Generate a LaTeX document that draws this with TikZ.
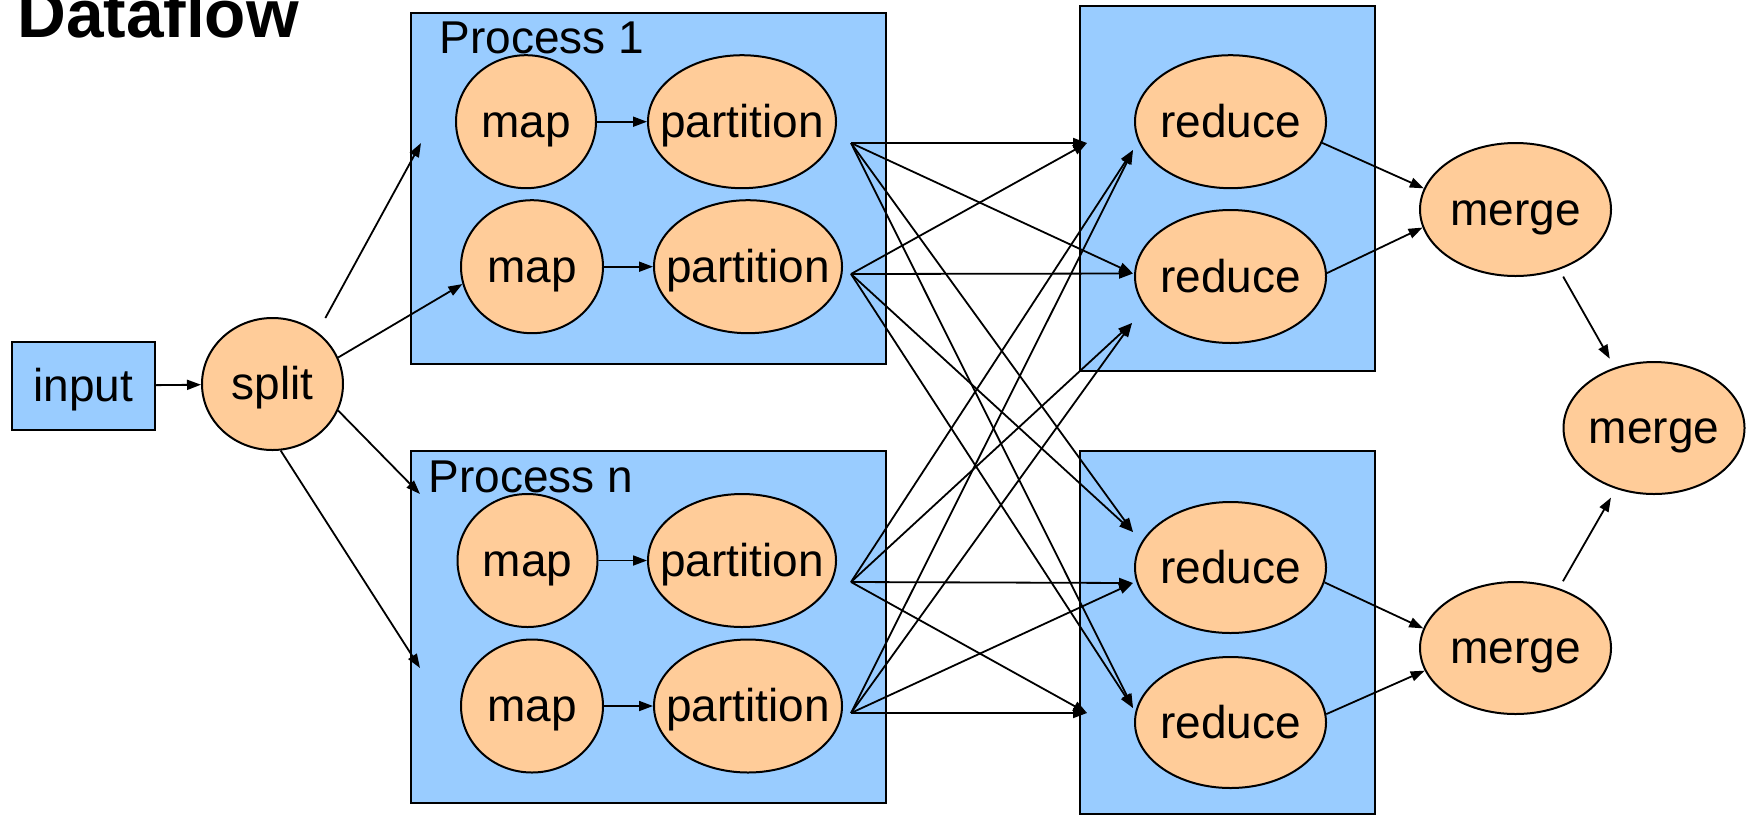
\documentclass[tikz,border=0pt]{standalone}
\usepackage{fontspec}
\setmainfont{Liberation Sans}
\usetikzlibrary{shapes.geometric,arrows.meta}
\definecolor{procblue}{HTML}{99CCFF}
\definecolor{peach}{HTML}{FFCC99}

\begin{document}
\begin{tikzpicture}[x=1pt,y=-1pt,
  box/.style={draw=black, line width=2pt, fill=procblue, inner sep=0pt, anchor=north west},
  oval/.style={ellipse, draw=black, line width=2pt, fill=peach, inner sep=0pt, minimum height=133pt},
  txt/.style={font=\fontsize{46}{50}\selectfont, inner sep=0pt, text height=41.6pt, text depth=9.75pt},
  lbl/.style={font=\fontsize{46}{50}\selectfont, inner sep=0pt, anchor=base west},
  flow/.style={line width=1.8pt, -{Triangle[length=14pt,width=10pt]}},
]
\useasboundingbox (0,0) rectangle (1760,815);
\clip (0,0) rectangle (1760,815);

% title
\node[font=\bfseries\fontsize{67.6}{70}\selectfont, anchor=base west, inner sep=0pt] (title) at (17,37.3) {Dataflow};

% containers
\node[box, minimum width=143pt, minimum height=88.3pt, label={[txt]center:input}] (input) at (11,340.7) {};
\node[box, minimum width=474.5pt, minimum height=351pt] (proc1) at (410,12) {};
\node[box, minimum width=474.5pt, minimum height=352pt] (procn) at (410,450) {};
\node[box, minimum width=295pt, minimum height=365pt] (redbox1) at (1079,5) {};
\node[box, minimum width=295pt, minimum height=363pt] (redbox2) at (1079,450) {};

\node[lbl] (p1lbl) at (439.5,53) {Process 1};
\node[lbl] (pnlbl) at (428.5,492) {Process n};

% split
\node[oval, minimum width=141pt, minimum height=132pt, label={[txt]center:split}] (split) at (272.5,384) {};

% map / partition stages
\node[oval, minimum width=140pt, label={[txt]center:map}] (map1) at (526,121.7) {};
\node[oval, minimum width=188pt, label={[txt]center:partition}] (part1) at (742,121.7) {};
\node[oval, minimum width=142pt, label={[txt]center:map}] (map2) at (532,266.7) {};
\node[oval, minimum width=188pt, label={[txt]center:partition}] (part2) at (748,266.7) {};
\node[oval, minimum width=140pt, label={[txt]center:map}] (map3) at (527.5,560.5) {};
\node[oval, minimum width=188pt, label={[txt]center:partition}] (part3) at (742,560.5) {};
\node[oval, minimum width=142pt, label={[txt]center:map}] (map4) at (532,706) {};
\node[oval, minimum width=188pt, label={[txt]center:partition}] (part4) at (748,706) {};

% reducers
\node[oval, minimum width=191pt, label={[txt]center:reduce}] (red1) at (1230.5,121.7) {};
\node[oval, minimum width=191pt, label={[txt]center:reduce}] (red2) at (1230.5,276.5) {};
\node[oval, minimum width=191pt, minimum height=131pt, label={[txt]center:reduce}] (red3) at (1230.5,567.5) {};
\node[oval, minimum width=191pt, minimum height=131pt, label={[txt]center:reduce}] (red4) at (1230.5,722.5) {};

% mergers
\node[oval, minimum width=191pt, label={[txt]center:merge}] (mrg1) at (1515.5,209.5) {};
\node[oval, minimum width=191pt, minimum height=132pt, label={[txt]center:merge}] (mrg2) at (1515.5,648) {};
\node[oval, minimum width=181pt, minimum height=132pt, label={[txt]center:merge}] (mrg3) at (1654,428) {};

% free ends of the split arrows
\coordinate (p1in) at (421,143);
\coordinate (pnin) at (420,494);
\coordinate (pnlow) at (420,668);

% partition fan-out points and reducer entry points
\coordinate (f1) at (851,143);
\coordinate (f2) at (851,274);
\coordinate (f3) at (851,582);
\coordinate (f4) at (851,713);
\coordinate (r1edge) at (1087,143);
\coordinate (r1low) at (1133,150);
\coordinate (r2mid) at (1133,273.5);
\coordinate (r2low) at (1132,323);
\coordinate (r3up) at (1133,532);
\coordinate (r3mid) at (1133,583);
\coordinate (r4up) at (1133,708);
\coordinate (r4edge) at (1087,713);

% input and split
\draw[flow] (input) -- (split);
\draw[flow, shorten <=16pt] (split.49) -- (p1in);
\draw[flow] (split.22) -- (map2.194);
\draw[flow] (split.-22) -- (pnin);
\draw[flow] (split.-83) -- (pnlow);

% map -> partition
\draw[flow] (map1) -- (part1);
\draw[flow] (map2) -- (part2);
\draw[flow] (map3) -- (part3);
\draw[flow] (map4) -- (part4);

% shuffle
\foreach \s in {f1,f2}{
  \foreach \t in {r1edge,r2mid,r3up,r4up}{
    \draw[flow] (\s) -- (\t);
  }
}
\foreach \s in {f3,f4}{
  \foreach \t in {r1low,r2low,r3mid,r4edge}{
    \draw[flow] (\s) -- (\t);
  }
}

% reduce -> merge
\draw[flow] (red1.-13) -- (mrg1.167);
\draw[flow] (red2.2) -- (mrg1.191);
\draw[flow] (red3.-9) -- (mrg2.168);
\draw[flow] (red4.5) -- (mrg2.194);
\draw[flow, shorten <=8pt, shorten >=10pt] (mrg1.-54) -- (mrg3.123);
\draw[flow, shorten <=8pt, shorten >=10pt] (mrg2.54) -- (mrg3.-122);
\end{tikzpicture}
\end{document}
